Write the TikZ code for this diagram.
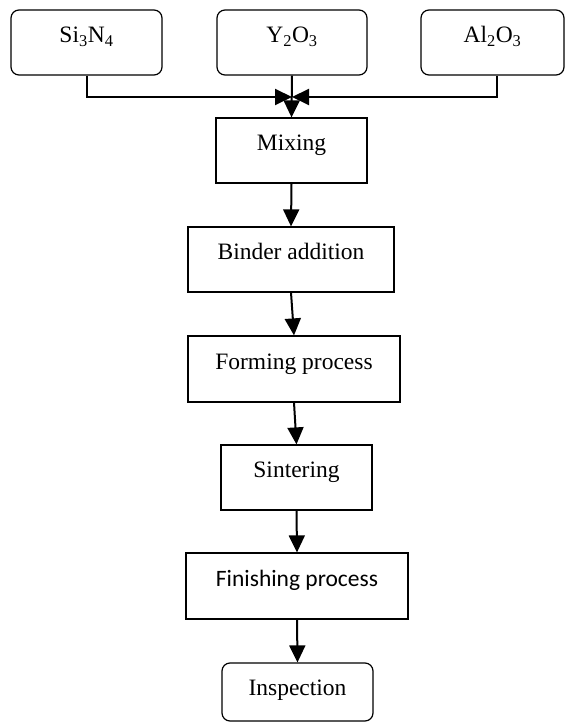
\documentclass[tikz,border=0pt]{standalone}
\usepackage{fontspec}
\setmainfont{Liberation Serif}
\newfontfamily\calibrilike{Carlito}
\usetikzlibrary{arrows.meta}
\begin{document}
\begin{tikzpicture}[x=1pt,y=-1pt,
  box/.style={draw=black, line width=1.2pt, fill=white, inner sep=0pt,
    minimum height=65pt, text height=16pt, text depth=16pt,
    font=\fontsize{23.5}{27}\selectfont},
  rbox/.style={box, rounded corners=8pt},
  conn/.style={line width=2pt, -{Triangle[width=16pt,length=17pt]}},
  plain/.style={line width=2pt}]
\useasboundingbox (0,0) rectangle (565,722);
% top inputs
\node[rbox, minimum width=151pt] (si) at (86.5,42.5) {Si\textsubscript{3}N\textsubscript{4}};
\node[rbox, minimum width=150pt] (yo) at (292,42.5) {Y\textsubscript{2}O\textsubscript{3}};
\node[rbox, minimum width=143pt] (al) at (492.5,42.5) {Al\textsubscript{2}O\textsubscript{3}};
% process steps
\node[box, minimum width=151pt] (mix) at (291.5,150.5) {Mixing};
\node[box, minimum width=206pt] (bind) at (291,259.5) {Binder addition};
\node[box, minimum width=212pt, minimum height=66pt] (form) at (294,369) {Forming process};
\node[box, minimum width=151pt] (sint) at (296.5,477.5) {Sintering};
\node[box, minimum width=222pt, minimum height=66pt, font=\calibrilike\fontsize{23.5}{27}\selectfont] (fin) at (297,586) {Finishing process};
\node[rbox, minimum width=151pt, minimum height=58pt, text depth=10pt] (insp) at (297.5,692) {Inspection};
% junction
\coordinate (j) at (292,97);
\coordinate (alout) at ([xshift=4.5pt]al.south);
\draw[conn] (si.south) |- (j);
\draw[conn] (alout) |- (j);
\draw[conn] (yo.south) -- (mix.north);
\draw[conn] (mix.south) -- (bind.north);
\draw[conn] (bind.south) -- (form.north);
\draw[conn] (form.south) -- (sint.north);
\draw[conn] (sint.south) -- (fin.north);
\draw[conn] (fin.south) -- (insp.north);
\end{tikzpicture}
\end{document}
